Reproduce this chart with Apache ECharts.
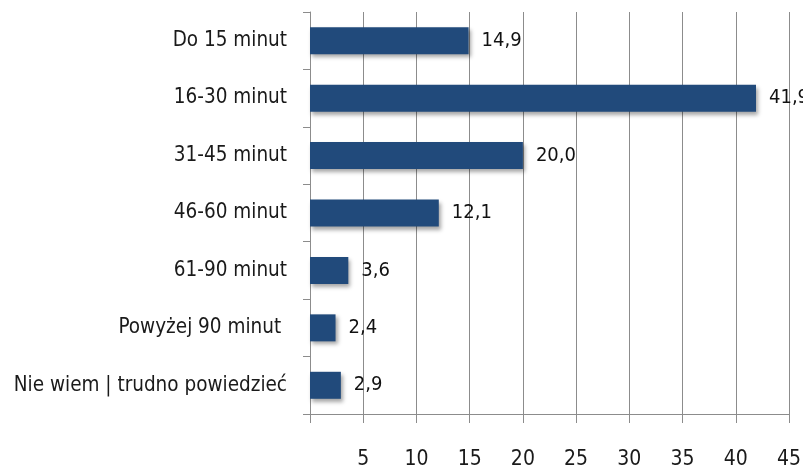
<!DOCTYPE html>
<html>
<head>
<meta charset="utf-8">
<script src="https://cdn.jsdelivr.net/npm/echarts@6/dist/echarts.min.js"></script>
<style>
  html, body { margin: 0; padding: 0; background: #fff; }
  #chart { width: 803px; height: 468px; }
</style>
</head>
<body>
<div id="chart"></div>
<script>
// Travel time categories (top to bottom) and share of respondents, %
const categories = [
  'Do 15 minut',
  '16-30 minut',
  '31-45 minut',
  '46-60 minut',
  '61-90 minut',
  'Powyżej 90 minut ',
  'Nie wiem | trudno powiedzieć'
];
const shares = [14.9, 41.9, 20.0, 12.1, 3.6, 2.4, 2.9];
const axisMin = 0;
const axisMax = 45;
const axisStep = 5;

const FONT = '"DejaVu Sans Condensed", "Open Sans", sans-serif';
const fmtComma = v => v.toFixed(1).replace('.', ',');

const chart = echarts.init(document.getElementById('chart'));
chart.setOption({
  animation: false,
  grid: {
    left: 310, right: 14, top: 12, bottom: 54,
    containLabel: false,
    outerBoundsMode: 'none'
  },
  xAxis: {
    type: 'value',
    min: axisMin,
    max: axisMax,
    interval: axisStep,
    axisLine: { show: true, lineStyle: { color: '#8c8c8c', width: 1 } },
    axisTick: { show: true, length: 9, lineStyle: { color: '#8c8c8c' } },
    splitLine: { show: true, lineStyle: { color: '#8c8c8c', width: 1 } },
    axisLabel: {
      margin: 35,
      color: '#1a1a1a',
      fontFamily: FONT,
      fontSize: 21,
      formatter: v => (v === 0 ? '' : String(v))
    }
  },
  yAxis: {
    type: 'category',
    data: categories,
    inverse: true,
    axisLine: { show: true, lineStyle: { color: '#8c8c8c', width: 1 } },
    axisTick: { show: true, length: 7, lineStyle: { color: '#8c8c8c' } },
    axisLabel: {
      margin: 23,
      color: '#1a1a1a',
      fontFamily: FONT,
      fontSize: 20.5
    }
  },
  series: [{
    type: 'bar',
    data: shares,
    barWidth: 27,
    itemStyle: {
      color: '#214a7b',
      shadowColor: 'rgba(0,0,0,0.35)',
      shadowBlur: 4,
      shadowOffsetX: 2,
      shadowOffsetY: 3
    },
    label: {
      show: true,
      position: 'right',
      distance: 13,
      color: '#111',
      fontFamily: FONT,
      fontSize: 20,
      formatter: p => fmtComma(p.value)
    }
  }]
});
</script>
</body>
</html>
